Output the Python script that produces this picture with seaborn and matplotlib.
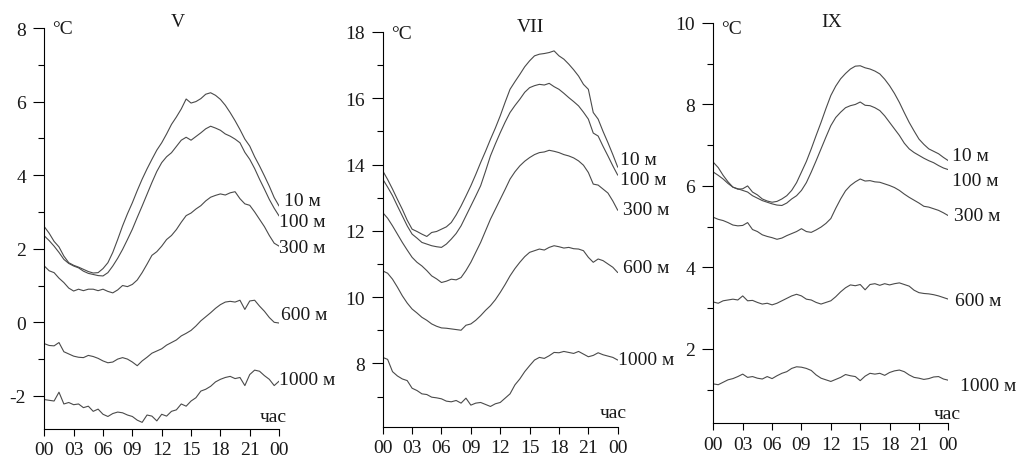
import numpy as np
import pandas as pd
import matplotlib
matplotlib.use('Agg')
import matplotlib.pyplot as plt
import seaborn as sns
from matplotlib.ticker import MultipleLocator

# Time axis: half-hour readings over one day
hours = np.arange(0, 24.01, 0.5)
hour_ticks = [0, 3, 6, 9, 12, 15, 18, 21, 24]
hour_labels = ['00', '03', '06', '09', '12', '15', '18', '21', '00']
depths = ['10 м', '100 м', '300 м', '600 м', '1000 м']
months = ['V', 'VII', 'IX']

# May (V)
may_10 = [2.60, 2.42, 2.20, 2.05, 1.80, 1.62, 1.55, 1.50, 1.44, 1.38, 1.34, 1.35, 1.46, 1.62, 1.90, 2.25,
          2.62, 2.95, 3.25, 3.58, 3.89, 4.17, 4.43, 4.68, 4.88, 5.12, 5.38, 5.58, 5.80, 6.07, 5.96, 6.00,
          6.08, 6.20, 6.24, 6.17, 6.06, 5.90, 5.70, 5.48, 5.24, 4.98, 4.79, 4.50, 4.25, 3.98, 3.70, 3.39, 3.16]
may_100 = [2.35, 2.22, 2.07, 1.90, 1.71, 1.60, 1.53, 1.48, 1.39, 1.33, 1.30, 1.27, 1.26, 1.35, 1.53, 1.74,
           1.98, 2.25, 2.53, 2.85, 3.16, 3.48, 3.80, 4.10, 4.34, 4.50, 4.61, 4.78, 4.95, 5.03, 4.95, 5.05,
           5.15, 5.26, 5.33, 5.28, 5.22, 5.12, 5.06, 4.98, 4.88, 4.62, 4.43, 4.18, 3.89, 3.62, 3.34, 3.10, 2.89]
may_300 = [1.53, 1.40, 1.35, 1.20, 1.08, 0.93, 0.85, 0.90, 0.86, 0.90, 0.90, 0.86, 0.90, 0.84, 0.80, 0.88,
           1.00, 0.97, 1.03, 1.15, 1.35, 1.58, 1.82, 1.92, 2.07, 2.25, 2.36, 2.52, 2.72, 2.90, 2.97, 3.08,
           3.17, 3.30, 3.40, 3.45, 3.49, 3.46, 3.52, 3.55, 3.36, 3.22, 3.18, 3.00, 2.80, 2.60, 2.36, 2.15, 2.07]
may_600 = [-0.58, -0.63, -0.64, -0.55, -0.80, -0.86, -0.92, -0.95, -0.96, -0.90, -0.93, -0.98, -1.05, -1.10,
           -1.08, -1.00, -0.96, -1.00, -1.08, -1.18, -1.05, -0.95, -0.84, -0.78, -0.72, -0.62, -0.55, -0.48,
           -0.37, -0.30, -0.22, -0.10, 0.04, 0.15, 0.26, 0.38, 0.48, 0.55, 0.57, 0.55, 0.60, 0.35, 0.58, 0.60,
           0.44, 0.30, 0.13, 0.00, -0.02]
may_1000 = [-2.10, -2.12, -2.14, -1.90, -2.22, -2.18, -2.24, -2.22, -2.32, -2.28, -2.42, -2.36, -2.50, -2.56,
            -2.48, -2.44, -2.46, -2.52, -2.56, -2.66, -2.72, -2.52, -2.55, -2.68, -2.50, -2.55, -2.42, -2.38,
            -2.22, -2.28, -2.14, -2.05, -1.87, -1.82, -1.74, -1.62, -1.55, -1.50, -1.47, -1.53, -1.50, -1.72,
            -1.42, -1.30, -1.33, -1.45, -1.55, -1.72, -1.60]

# July (VII)
jul_10 = [13.81, 13.55, 13.26, 12.95, 12.65, 12.32, 12.05, 11.98, 11.90, 11.83, 11.95, 11.98, 12.05, 12.12,
          12.25, 12.48, 12.75, 13.05, 13.36, 13.70, 14.06, 14.40, 14.76, 15.10, 15.47, 15.88, 16.27, 16.50,
          16.72, 16.95, 17.13, 17.28, 17.33, 17.35, 17.38, 17.43, 17.28, 17.18, 17.03, 16.86, 16.67, 16.42,
          16.27, 15.57, 15.37, 15.00, 14.66, 14.30, 13.92]
jul_100 = [13.56, 13.32, 13.06, 12.75, 12.45, 12.15, 11.90, 11.78, 11.65, 11.60, 11.55, 11.52, 11.50, 11.60,
           11.75, 11.92, 12.15, 12.45, 12.75, 13.05, 13.36, 13.80, 14.26, 14.62, 14.96, 15.28, 15.57, 15.78,
           15.97, 16.18, 16.32, 16.38, 16.42, 16.40, 16.45, 16.35, 16.27, 16.15, 16.02, 15.90, 15.77, 15.58,
           15.37, 14.95, 14.86, 14.55, 14.26, 13.96, 13.68]
jul_300 = [12.55, 12.38, 12.15, 11.90, 11.65, 11.42, 11.20, 11.05, 10.94, 10.80, 10.64, 10.55, 10.44, 10.48,
           10.54, 10.52, 10.59, 10.80, 11.05, 11.35, 11.65, 12.00, 12.35, 12.65, 12.95, 13.25, 13.56, 13.78,
           13.96, 14.10, 14.21, 14.30, 14.36, 14.38, 14.43, 14.40, 14.36, 14.30, 14.26, 14.20, 14.11, 13.98,
           13.76, 13.41, 13.38, 13.26, 13.14, 12.90, 12.62]
jul_600 = [10.79, 10.72, 10.54, 10.30, 10.04, 9.82, 9.64, 9.52, 9.39, 9.30, 9.19, 9.12, 9.07, 9.06, 9.04,
           9.02, 9.00, 9.15, 9.19, 9.30, 9.44, 9.60, 9.74, 9.92, 10.14, 10.38, 10.64, 10.86, 11.05, 11.22,
           11.35, 11.40, 11.45, 11.42, 11.50, 11.55, 11.52, 11.48, 11.50, 11.46, 11.45, 11.40, 11.20, 11.05,
           11.15, 11.10, 11.00, 10.90, 10.74]
jul_1000 = [8.18, 8.12, 7.75, 7.62, 7.53, 7.48, 7.25, 7.18, 7.08, 7.06, 6.98, 6.96, 6.93, 6.86, 6.84, 6.88,
            6.80, 6.95, 6.74, 6.80, 6.82, 6.76, 6.70, 6.78, 6.82, 6.95, 7.08, 7.35, 7.53, 7.75, 7.93, 8.10,
            8.18, 8.15, 8.23, 8.33, 8.32, 8.36, 8.33, 8.30, 8.36, 8.28, 8.20, 8.24, 8.32, 8.26, 8.22, 8.18, 8.10]

# September (IX)
sep_10 = [6.58, 6.45, 6.26, 6.10, 5.97, 5.92, 5.93, 6.00, 5.85, 5.78, 5.68, 5.63, 5.60, 5.62, 5.68, 5.76,
          5.89, 6.08, 6.34, 6.60, 6.91, 7.24, 7.56, 7.90, 8.22, 8.45, 8.63, 8.76, 8.87, 8.94, 8.95, 8.90,
          8.87, 8.82, 8.75, 8.62, 8.46, 8.27, 8.05, 7.80, 7.56, 7.35, 7.15, 7.02, 6.91, 6.85, 6.79, 6.70, 6.62]
sep_100 = [6.34, 6.26, 6.17, 6.06, 5.97, 5.93, 5.89, 5.85, 5.76, 5.70, 5.64, 5.60, 5.56, 5.53, 5.52, 5.58,
           5.68, 5.76, 5.89, 6.08, 6.34, 6.62, 6.91, 7.20, 7.48, 7.68, 7.81, 7.92, 7.97, 8.00, 8.06, 7.98,
           7.97, 7.92, 7.85, 7.72, 7.56, 7.40, 7.24, 7.05, 6.91, 6.82, 6.75, 6.68, 6.62, 6.57, 6.50, 6.44, 6.40]
sep_300 = [5.23, 5.18, 5.15, 5.10, 5.04, 5.02, 5.03, 5.10, 4.93, 4.88, 4.80, 4.76, 4.73, 4.69, 4.72, 4.78,
           4.83, 4.88, 4.95, 4.88, 4.86, 4.92, 4.99, 5.08, 5.20, 5.45, 5.68, 5.88, 6.01, 6.10, 6.17, 6.12,
           6.13, 6.10, 6.09, 6.05, 6.01, 5.96, 5.89, 5.80, 5.72, 5.65, 5.58, 5.50, 5.48, 5.44, 5.40, 5.34, 5.27]
sep_600 = [3.15, 3.12, 3.18, 3.20, 3.22, 3.20, 3.30, 3.18, 3.19, 3.14, 3.10, 3.12, 3.08, 3.12, 3.18, 3.24,
           3.30, 3.34, 3.30, 3.22, 3.20, 3.14, 3.10, 3.14, 3.18, 3.28, 3.40, 3.50, 3.57, 3.55, 3.58, 3.45,
           3.58, 3.60, 3.56, 3.60, 3.57, 3.60, 3.62, 3.58, 3.54, 3.44, 3.38, 3.36, 3.35, 3.33, 3.30, 3.26, 3.22]
sep_1000 = [1.14, 1.12, 1.18, 1.24, 1.27, 1.32, 1.38, 1.30, 1.32, 1.28, 1.26, 1.32, 1.27, 1.34, 1.40, 1.44,
            1.52, 1.56, 1.55, 1.52, 1.47, 1.36, 1.28, 1.24, 1.20, 1.25, 1.30, 1.37, 1.34, 1.32, 1.22, 1.33,
            1.40, 1.38, 1.40, 1.35, 1.42, 1.46, 1.48, 1.44, 1.36, 1.30, 1.28, 1.25, 1.27, 1.31, 1.32, 1.26, 1.23]

month_series = {
    'V': [may_10, may_100, may_300, may_600, may_1000],
    'VII': [jul_10, jul_100, jul_300, jul_600, jul_1000],
    'IX': [sep_10, sep_100, sep_300, sep_600, sep_1000],
}

panels = [
    dict(month='V', rect=[0.0436, 0.0733, 0.2311, 0.8642], ylim=(-2.9, 8), yticks=[-2, 0, 2, 4, 6, 8],
         ytick_labels=['-2', '0', '2', '4', '6', '8'], title_x=0.57, title_y=1.015, degc_y=1.0,
         label_pos=[(24.5, 3.32), (23.95, 2.75), (23.95, 2.03), (24.2, 0.22), (23.95, -1.55)],
         hour_pos=(22.0, -2.55)),
    dict(month='VII', rect=[0.3767, 0.0776, 0.2313, 0.8513], ylim=(6.08, 18), yticks=[8, 10, 12, 14, 16, 18],
         ytick_labels=['8', '10', '12', '14', '16', '18'], title_x=0.627, title_y=1.014, degc_y=0.997,
         label_pos=[(24.2, 14.16), (24.2, 13.56), (24.56, 12.65), (24.56, 10.9), (24.05, 8.13)],
         hour_pos=(22.2, 6.52)),
    dict(month='IX', rect=[0.7021, 0.0862, 0.2313, 0.8621], ylim=(0.18, 10), yticks=[2, 4, 6, 8, 10],
         ytick_labels=['2', '4', '6', '8', '10'], title_x=0.505, title_y=1.004, degc_y=0.987,
         label_pos=[(24.35, 6.75), (24.35, 6.13), (24.6, 5.27), (24.7, 3.19), (25.15, 1.1)],
         hour_pos=(22.55, 0.41)),
]

sns.set_theme(style='ticks')
plt.rcParams['font.family'] = ['Liberation Serif', 'DejaVu Serif']
plt.rcParams['axes.edgecolor'] = 'black'
plt.rcParams['axes.linewidth'] = 0.8

LINE_COLOR = '#4a4a4a'
TEXT_COLOR = '#1a1a1a'
FS = 14

fig = plt.figure(figsize=(10.16, 4.64), dpi=100)

for p in panels:
    ax = fig.add_axes(p['rect'])
    rows = []
    for depth, values in zip(depths, month_series[p['month']]):
        rows.append(pd.DataFrame({'hour': hours, 'temp': values, 'depth': depth}))
    df = pd.concat(rows, ignore_index=True)
    sns.lineplot(data=df, x='hour', y='temp', units='depth', estimator=None,
                 color=LINE_COLOR, linewidth=0.8, ax=ax)

    ax.set_xlim(0, 24)
    ax.set_ylim(*p['ylim'])
    ax.set_xticks(hour_ticks)
    ax.set_xticklabels(hour_labels)
    ax.set_yticks(p['yticks'])
    ax.set_yticklabels(p['ytick_labels'])
    ax.yaxis.set_minor_locator(MultipleLocator(1))
    ax.set_xlabel('')
    ax.set_ylabel('')
    sns.despine(ax=ax)
    ax.tick_params(axis='y', which='major', length=8, width=0.8, pad=5, labelsize=FS,
                   colors='black', labelcolor=TEXT_COLOR)
    ax.tick_params(axis='y', which='minor', length=4, width=0.8, colors='black')
    ax.tick_params(axis='x', which='major', length=5, width=0.8, pad=4, labelsize=FS,
                   colors='black', labelcolor=TEXT_COLOR)

    ax.text(p['title_x'], p['title_y'], p['month'], transform=ax.transAxes,
            ha='center', va='center', fontsize=FS, color=TEXT_COLOR)
    ax.text(0.035, p['degc_y'], '°C', transform=ax.transAxes,
            ha='left', va='center', fontsize=FS, color=TEXT_COLOR)
    for depth, (lx, ly) in zip(depths, p['label_pos']):
        ax.text(lx, ly, depth, ha='left', va='center', fontsize=FS,
                color=TEXT_COLOR, clip_on=False)
    ax.text(p['hour_pos'][0], p['hour_pos'][1], 'час', ha='left', va='center',
            fontsize=FS, color=TEXT_COLOR)

fig.savefig('out.png', dpi=100)
